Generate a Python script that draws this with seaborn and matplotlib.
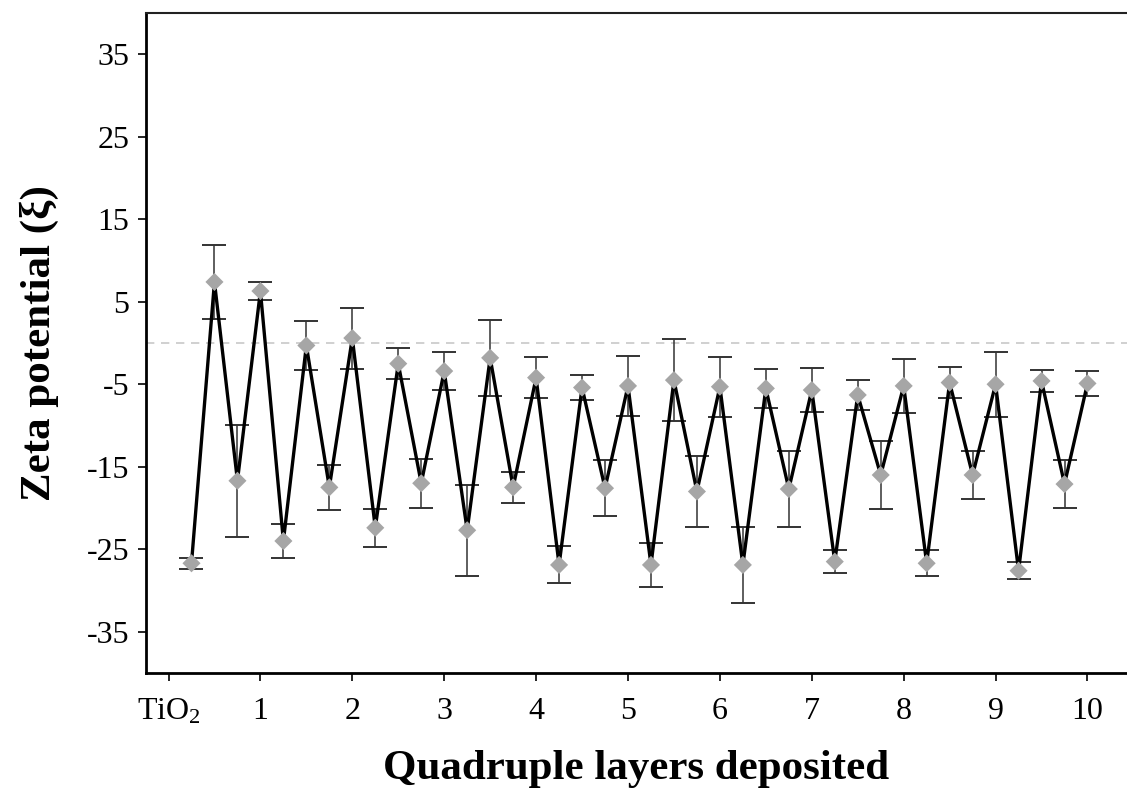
import numpy as np
import pandas as pd
import matplotlib
matplotlib.use("Agg")
import matplotlib.pyplot as plt
import seaborn as sns

# ---- data ----
layers = [0.25, 0.5, 0.75, 1.0, 1.25, 1.5, 1.75, 2.0, 2.25, 2.5, 2.75, 3.0, 3.25, 3.5, 3.75, 4.0,
          4.25, 4.5, 4.75, 5.0, 5.25, 5.5, 5.75, 6.0, 6.25, 6.5, 6.75, 7.0, 7.25, 7.5, 7.75, 8.0,
          8.25, 8.5, 8.75, 9.0, 9.25, 9.5, 9.75, 10.0]
zeta = [-26.7, 7.4, -16.7, 6.3, -24.0, -0.3, -17.5, 0.6, -22.4, -2.5, -17.0, -3.4, -22.7, -1.8, -17.5, -4.2,
        -26.9, -5.4, -17.6, -5.2, -26.9, -4.5, -18.0, -5.3, -26.9, -5.5, -17.7, -5.7, -26.5, -6.3, -16.0, -5.2,
        -26.7, -4.8, -16.0, -5.0, -27.6, -4.6, -17.1, -4.9]
zeta_err = [0.7, 4.5, 6.8, 1.05, 2.05, 2.95, 2.75, 3.7, 2.3, 1.9, 3.0, 2.25, 5.5, 4.6, 1.9, 2.5,
            2.25, 1.55, 3.4, 3.6, 2.65, 4.95, 4.3, 3.65, 4.65, 2.4, 4.55, 2.65, 1.4, 1.85, 4.15, 3.25,
            1.6, 1.85, 2.95, 3.95, 1.0, 1.35, 2.9, 1.55]
xtick_pos = [0, 1, 2, 3, 4, 5, 6, 7, 8, 9, 10]
xtick_labels = ["TiO$_2$", "1", "2", "3", "4", "5", "6", "7", "8", "9", "10"]
ytick_vals = [-35, -25, -15, -5, 5, 15, 25, 35]

df = pd.DataFrame({"layer": layers, "zeta": zeta, "err": zeta_err})

sns.set_theme(style="ticks")
plt.rcParams["font.family"] = ["Liberation Serif", "DejaVu Serif"]
plt.rcParams["mathtext.fontset"] = "custom"
plt.rcParams["mathtext.rm"] = "Liberation Serif"
plt.rcParams["mathtext.it"] = "Liberation Serif:italic"
plt.rcParams["axes.unicode_minus"] = False
plt.rcParams["text.color"] = "black"
plt.rcParams["axes.labelcolor"] = "black"
plt.rcParams["xtick.color"] = "black"
plt.rcParams["ytick.color"] = "black"

fig = plt.figure(figsize=(11.27, 7.89), dpi=100)
ax = fig.add_axes([146 / 1127, 1 - 673 / 789, 1 - 146 / 1127, (673 - 13) / 789])

# zero reference line
ax.axhline(0, color="#c8c8c8", lw=1.2, ls=(0, (5, 4)), zorder=1)

# error bars
ax.errorbar(df["layer"], df["zeta"], yerr=df["err"], fmt="none", ecolor="#333333",
            elinewidth=1.1, capsize=8.3, capthick=1.4, zorder=2)

# line
sns.lineplot(data=df, x="layer", y="zeta", color="black", lw=2.4, ax=ax, zorder=3,
             estimator=None, sort=False)

# diamonds
sns.scatterplot(data=df, x="layer", y="zeta", marker="D", s=85, color="#a6a6a6",
                edgecolor="none", ax=ax, zorder=4)

ax.set_xlim(-0.245, 10.43)
ax.set_ylim(-40, 40)
ax.set_xticks(xtick_pos)
ax.set_xticklabels(xtick_labels)
ax.set_yticks(ytick_vals)
ax.tick_params(axis="both", direction="out", length=6, width=1.2, colors="black",
               labelsize=23)
ax.tick_params(axis="x", pad=11)
ax.tick_params(axis="y", pad=6)

for s in ["left", "bottom"]:
    ax.spines[s].set_linewidth(2.0)
    ax.spines[s].set_color("black")
ax.spines["top"].set_visible(True)
ax.spines["top"].set_linewidth(1.5)
ax.spines["top"].set_color("#222222")
ax.spines["right"].set_visible(False)

ax.set_xlabel("Quadruple layers deposited", fontsize=31, fontweight="bold", labelpad=17,
              color="black")
ax.set_ylabel("Zeta potential (ξ)", fontsize=31, fontweight="bold", labelpad=20,
              color="black")
ax.grid(False)

fig.savefig("out.png", dpi=100)
